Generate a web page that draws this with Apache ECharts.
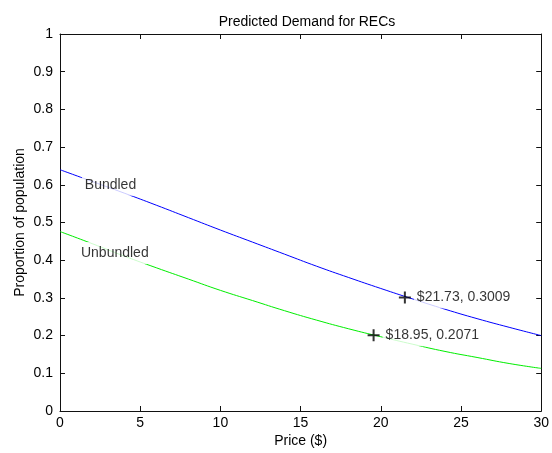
<!DOCTYPE html>
<html>
<head>
<meta charset="utf-8">
<script src="https://cdn.jsdelivr.net/npm/echarts@6/dist/echarts.min.js"></script>
<style>
html,body{margin:0;padding:0;background:#fff;}
#chart{width:552px;height:453px;}
</style>
</head>
<body>
<div id="chart"></div>
<script>
// ---- data ----
const priceX = [0, 2, 4, 6, 8, 10, 12, 14, 16, 18, 20, 22, 24, 26, 28, 30];
const bundled = [0.640, 0.609, 0.578, 0.546, 0.513, 0.480, 0.448, 0.416, 0.384, 0.354, 0.325, 0.297, 0.270, 0.245, 0.222, 0.200];
const unbundled = [0.476, 0.444, 0.411, 0.380, 0.350, 0.320, 0.293, 0.266, 0.241, 0.218, 0.197, 0.177, 0.158, 0.142, 0.126, 0.113];
const seriesNames = ['Bundled', 'Unbundled'];
const curveLabelPos = [[1.36, 0.600], [1.12, 0.419]];
const markerPoints = [[21.5, 0.301], [19.55, 0.201]];
const markerTexts = ['$21.73, 0.3009', '$18.95, 0.2071'];
const xTicks = {min: 0, max: 30, interval: 5};
const yTicks = {min: 0, max: 1, interval: 0.1};

const FONT = 'Liberation Sans, Arial, sans-serif';
const FS = 14;
const chart = echarts.init(document.getElementById('chart'));

const axisCommon = {
  axisLine: {show: true, onZero: false, lineStyle: {color: '#111', width: 1}},
  axisTick: {show: true, inside: true, length: 5, lineStyle: {color: '#111'}},
  splitLine: {show: false},
  axisLabel: {color: '#000', fontFamily: FONT, fontSize: FS}
};

const pairs = arr => priceX.map((x, i) => [x, arr[i]]);

const option = {
  animation: false,
  backgroundColor: '#fff',
  title: {
    text: 'Predicted Demand for RECs',
    left: 302, top: 10, textAlign: 'center',
    textStyle: {fontFamily: FONT, fontSize: FS, fontWeight: 'normal', color: '#000'}
  },
  grid: {left: 60, right: 8, top: 34, bottom: 37, containLabel: false},
  xAxis: [
    Object.assign({}, axisCommon, {
      type: 'value', position: 'bottom', min: xTicks.min, max: xTicks.max, interval: xTicks.interval,
      name: 'Price ($)', nameLocation: 'middle', nameGap: 23, nameMoveOverlap: false,
      nameTextStyle: {color: '#000', fontFamily: FONT, fontSize: FS},
      axisLabel: Object.assign({}, axisCommon.axisLabel, {margin: 5})
    }),
    Object.assign({}, axisCommon, {
      type: 'value', position: 'top', min: xTicks.min, max: xTicks.max, interval: xTicks.interval,
      axisLabel: {show: false}
    })
  ],
  yAxis: [
    Object.assign({}, axisCommon, {
      type: 'value', position: 'left', min: yTicks.min, max: yTicks.max, interval: yTicks.interval,
      name: 'Proportion of population', nameLocation: 'middle', nameGap: 33, nameMoveOverlap: false,
      nameTextStyle: {color: '#000', fontFamily: FONT, fontSize: FS},
      axisLabel: Object.assign({}, axisCommon.axisLabel, {margin: 7,
        formatter: v => (Math.round(v * 10) / 10).toString()})
    }),
    Object.assign({}, axisCommon, {
      type: 'value', position: 'right', min: yTicks.min, max: yTicks.max, interval: yTicks.interval,
      axisLabel: {show: false}
    })
  ],
  series: [
    {
      name: seriesNames[0], type: 'line', data: pairs(bundled), smooth: true, showSymbol: false,
      lineStyle: {color: '#0000ff', width: 1}, z: 2, silent: true
    },
    {
      name: seriesNames[1], type: 'line', data: pairs(unbundled), smooth: true, showSymbol: false,
      lineStyle: {color: '#00ee00', width: 1}, z: 2, silent: true
    },
    {
      name: 'curveLabels', type: 'scatter', z: 5, silent: true,
      symbolSize: 0,
      data: curveLabelPos.map((p, i) => ({value: p, name: seriesNames[i]})),
      label: {
        show: true, position: 'right', distance: 0, formatter: '{b}',
        backgroundColor: '#fff', padding: [4, 3, 4, 3],
        color: '#000', fontFamily: FONT, fontSize: FS
      }
    },
    {
      name: 'markers', type: 'scatter', z: 6, silent: true,
      symbol: 'path://M5,0H7V5H12V7H7V12H5V7H0V5H5Z', symbolSize: 12,
      itemStyle: {color: '#000'},
      data: markerPoints.map((p, i) => ({value: p, name: markerTexts[i]})),
      label: {
        show: true, position: 'right', distance: 3, formatter: '{b}',
        backgroundColor: '#fff', padding: [4, 3, 4, 3],
        color: '#000', fontFamily: FONT, fontSize: FS
      }
    }
  ]
};
chart.setOption(option);
</script>
</body>
</html>
